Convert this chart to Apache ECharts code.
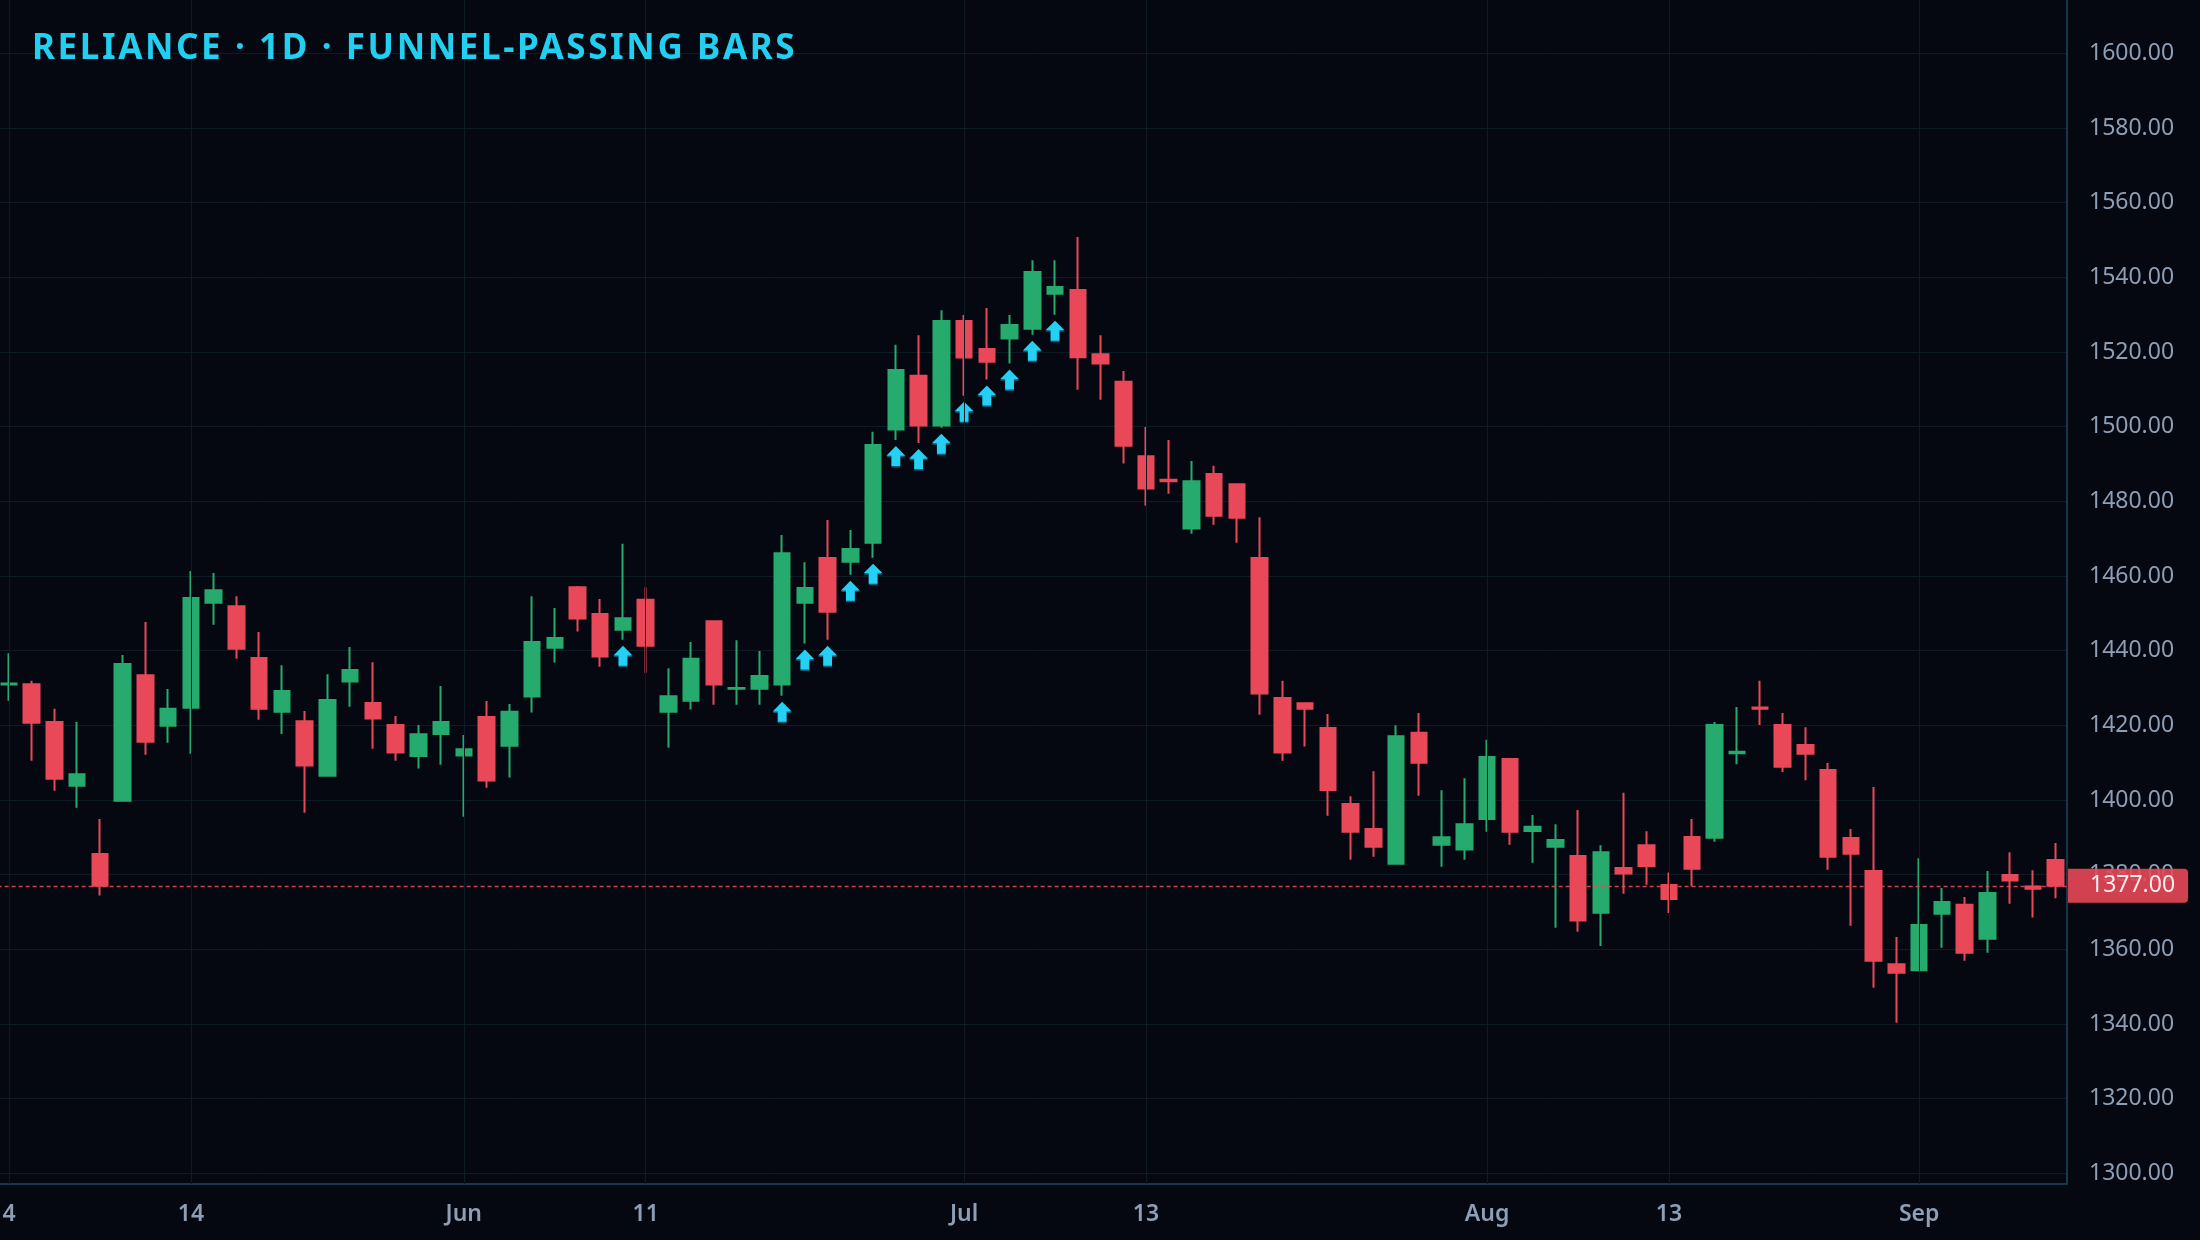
<!DOCTYPE html>
<html>
<head>
<meta charset="utf-8">
<script src="https://cdn.jsdelivr.net/npm/echarts@6/dist/echarts.min.js"></script>
<style>
  html, body { margin: 0; padding: 0; background: #050810; }
  #chart { width: 2200px; height: 1240px; }
</style>
</head>
<body>
<div id="chart"></div>
<script>
// ---------- data ----------
const categories = Array.from({ length: 91 }, (_, i) => 'Bar ' + (i + 1));
const tickIndex = [0, 8, 20, 28, 42, 50, 65, 73, 84];
const tickText  = ['4', '14', 'Jun', '11', 'Jul', '13', 'Aug', '13', 'Sep'];

const openV = [
  1430.9, 1431.0, 1420.9, 1403.8, 1385.5, 1399.8, 1433.4, 1419.9, 1424.7, 1452.8,
  1451.9, 1438.0, 1423.6, 1421.1, 1406.5, 1431.7, 1426.0, 1420.1, 1411.8, 1417.7,
  1411.9, 1422.2, 1414.5, 1427.7, 1440.8, 1457.0, 1449.8, 1445.6, 1453.6, 1423.6,
  1426.6, 1447.9, 1429.8, 1429.8, 1430.9, 1452.8, 1464.8, 1463.8, 1468.9, 1499.2,
  1513.6, 1500.3, 1528.3, 1520.8, 1523.6, 1526.2, 1535.6, 1536.6, 1519.4, 1512.0,
  1492.1, 1485.8, 1472.7, 1487.3, 1484.6, 1464.8, 1427.3, 1425.9, 1419.3, 1398.9,
  1392.2, 1382.9, 1418.0, 1388.0, 1386.7, 1394.9, 1411.0, 1391.7, 1387.5, 1385.0,
  1369.8, 1381.8, 1387.9, 1377.2, 1390.1, 1389.9, 1412.5, 1424.8, 1420.1, 1414.7,
  1408.0, 1389.8, 1381.0, 1356.0, 1354.4, 1369.5, 1371.9, 1362.8, 1379.9, 1376.8,
  1383.9
];
const closeV = [
  1431.2, 1420.7, 1405.7, 1406.9, 1377.0, 1436.4, 1415.6, 1424.4, 1454.1, 1456.2,
  1440.5, 1424.4, 1429.2, 1409.2, 1426.8, 1434.8, 1421.8, 1412.7, 1417.6, 1420.9,
  1413.6, 1405.2, 1423.6, 1442.3, 1443.4, 1448.6, 1438.4, 1448.7, 1441.3, 1427.8,
  1437.8, 1430.9, 1430.0, 1433.2, 1466.1, 1456.8, 1450.4, 1467.2, 1495.1, 1515.2,
  1500.3, 1528.3, 1518.5, 1517.4, 1527.2, 1541.4, 1537.4, 1518.6, 1516.9, 1494.9,
  1483.4, 1485.4, 1485.4, 1476.1, 1475.6, 1428.5, 1412.7, 1424.4, 1402.7, 1391.5,
  1387.5, 1417.1, 1410.0, 1390.0, 1393.5, 1411.5, 1391.5, 1392.8, 1389.3, 1367.7,
  1386.0, 1380.3, 1382.3, 1373.5, 1381.6, 1420.1, 1412.9, 1424.4, 1408.9, 1412.4,
  1384.8, 1385.6, 1356.9, 1353.7, 1366.5, 1372.7, 1359.1, 1375.1, 1378.4, 1376.2,
  1377.0
];
const lowV = [
  1426.6, 1410.5, 1402.5, 1397.9, 1374.4, 1399.8, 1412.1, 1415.3, 1412.4, 1446.9,
  1437.8, 1421.5, 1417.7, 1396.6, 1406.5, 1425.0, 1413.7, 1410.5, 1408.4, 1409.4,
  1395.5, 1403.3, 1406.0, 1423.4, 1436.8, 1445.1, 1435.7, 1442.9, 1434.1, 1414.0,
  1424.2, 1425.5, 1425.5, 1425.5, 1427.9, 1441.9, 1442.9, 1460.3, 1464.9, 1496.4,
  1495.6, 1499.7, 1508.3, 1512.6, 1516.9, 1524.6, 1530.0, 1509.9, 1507.2, 1490.1,
  1478.8, 1482.0, 1471.3, 1473.7, 1468.9, 1422.8, 1410.5, 1414.3, 1395.8, 1384.0,
  1384.8, 1382.9, 1401.1, 1382.1, 1384.0, 1391.5, 1388.0, 1383.2, 1365.8, 1364.7,
  1360.9, 1374.9, 1377.3, 1369.7, 1376.9, 1388.8, 1409.6, 1420.1, 1407.5, 1405.3,
  1381.3, 1366.3, 1349.7, 1340.3, 1354.2, 1360.4, 1356.9, 1359.1, 1372.2, 1368.5,
  1373.7
];
const highV = [
  1439.3, 1431.9, 1424.4, 1420.9, 1394.9, 1438.8, 1447.7, 1429.7, 1461.3, 1460.8,
  1454.6, 1445.0, 1436.1, 1423.8, 1433.7, 1441.0, 1436.9, 1422.5, 1420.1, 1430.5,
  1417.4, 1426.5, 1425.7, 1454.6, 1451.4, 1457.3, 1453.8, 1468.6, 1457.0, 1435.3,
  1442.3, 1447.9, 1442.8, 1439.9, 1471.0, 1463.7, 1475.0, 1472.3, 1498.6, 1521.9,
  1524.5, 1531.2, 1529.9, 1531.8, 1529.9, 1544.6, 1544.6, 1550.8, 1524.5, 1514.9,
  1499.9, 1496.4, 1490.8, 1489.5, 1484.6, 1475.7, 1431.9, 1426.0, 1423.0, 1401.0,
  1407.7, 1420.0, 1423.3, 1402.6, 1405.8, 1416.1, 1411.0, 1396.0, 1393.5, 1397.3,
  1387.9, 1401.9, 1391.6, 1380.6, 1394.9, 1420.9, 1424.9, 1431.9, 1423.3, 1419.5,
  1409.9, 1392.2, 1403.5, 1363.3, 1384.4, 1376.4, 1374.0, 1381.0, 1386.0, 1381.2,
  1388.5
];
// bars that passed the funnel (arrow markers under the low)
const signalIdx = [27, 34, 35, 36, 37, 38, 39, 40, 41, 42, 43, 44, 45, 46];
const lastPrice = closeV[closeV.length - 1];
const titleText = 'RELIANCE \u00B7 1D \u00B7 FUNNEL-PASSING BARS';

// ---------- letter spacing for the title text (canvas) ----------
(function () {
  const proto = CanvasRenderingContext2D.prototype;
  const orig = proto.fillText;
  proto.fillText = function () {
    if (this.font && this.font.indexOf('35px') >= 0 && 'letterSpacing' in this) {
      const prev = this.letterSpacing;
      this.letterSpacing = '2.6px';
      const r = orig.apply(this, arguments);
      this.letterSpacing = prev;
      return r;
    }
    return orig.apply(this, arguments);
  };
})();

// ---------- styles ----------
const FONT = 'Noto Sans';
const UP = '#27aa6d';
const DOWN = '#e94858';
const GRID_LINE = '#0e1a24';
const FRAME = '#17384a';
const LABEL = '#8d9eb5';
const CYAN = '#24d0f4';

const candleData = openV.map((o, i) => [o, closeV[i], lowV[i], highV[i]]);
const arrowData = signalIdx.map(i => [i, lowV[i]]);

const gridLeft = -2.37, gridRight = 133.03;

const chart = echarts.init(document.getElementById('chart'), null, { renderer: 'canvas' });
chart.setOption({
  animation: false,
  backgroundColor: '#050810',
  title: {
    text: titleText,
    left: 32, top: 31.5, padding: 0,
    textStyle: { color: '#22cff0', fontSize: 35, fontWeight: 'bold', fontFamily: FONT }
  },
  grid: [
    { left: gridLeft, right: gridRight, top: 53.3, bottom: 66.7, outerBoundsMode: 'none', containLabel: false },
    { left: gridLeft, right: gridRight, top: 0, bottom: 56, outerBoundsMode: 'none', containLabel: false }
  ],
  xAxis: [
    { type: 'category', gridIndex: 0, data: categories, boundaryGap: true, show: false },
    {
      type: 'category', gridIndex: 1, data: categories, boundaryGap: true,
      axisLine: { show: true, lineStyle: { color: FRAME, width: 2 } },
      axisTick: { show: false },
      splitLine: { show: false },
      axisLabel: {
        interval: (idx) => tickIndex.indexOf(idx) >= 0,
        formatter: (v, idx) => { const k = tickIndex.indexOf(idx); return k >= 0 ? tickText[k] : ''; },
        color: LABEL, fontSize: 23, fontWeight: 600, fontFamily: FONT, margin: 19
      }
    }
  ],
  yAxis: [
    {
      type: 'value', gridIndex: 0, position: 'right',
      min: 1300, max: 1600, interval: 20, scale: true,
      axisLine: { show: false }, axisTick: { show: false },
      axisLabel: {
        formatter: (v) => v.toFixed(2), color: LABEL, fontSize: 23, fontFamily: FONT,
        margin: 22, padding: [5, 0, 0, 0], showMinLabel: true, showMaxLabel: true
      },
      splitLine: { show: true, lineStyle: { color: GRID_LINE, width: 1 } }
    },
    {
      type: 'value', gridIndex: 1, position: 'right', min: 0, max: 1,
      axisLine: { show: true, lineStyle: { color: FRAME, width: 2 } },
      axisTick: { show: false }, axisLabel: { show: false }, splitLine: { show: false }
    }
  ],
  series: [
    {
      // vertical grid lines at the date ticks
      type: 'line', xAxisIndex: 1, yAxisIndex: 1, data: [], silent: true, z: 0,
      markLine: {
        silent: true, symbol: ['none', 'none'], label: { show: false },
        lineStyle: { color: GRID_LINE, width: 1, type: 'solid' },
        emphasis: { disabled: true },
        data: tickIndex.map(i => ({ xAxis: i }))
      }
    },
    {
      type: 'candlestick', xAxisIndex: 0, yAxisIndex: 0, data: candleData,
      barWidth: 16, z: 2,
      itemStyle: { color: UP, color0: DOWN, borderColor: UP, borderColor0: DOWN, borderWidth: 2 },
      emphasis: { disabled: true },
      markLine: {
        silent: true, symbol: ['none', 'none'],
        lineStyle: { color: DOWN, width: 1.3, type: [4, 3], opacity: 0.9 },
        emphasis: { disabled: true },
        label: {
          show: true, position: 'end', distance: 1,
          formatter: () => lastPrice.toFixed(2),
          color: '#ffffff', fontSize: 23, fontFamily: FONT, lineHeight: 23,
          backgroundColor: DOWN, padding: [8, 13, 3, 22], borderRadius: [0, 4, 4, 0]
        },
        data: [{ yAxis: lastPrice }]
      }
    },
    {
      type: 'scatter', xAxisIndex: 0, yAxisIndex: 0, data: arrowData, silent: true, z: 3,
      symbol: 'path://M9.5,0 L19,9.6 L13.9,9.6 L13.9,20 L5.1,20 L5.1,9.6 L0,9.6 Z',
      symbolSize: [19, 20], symbolOffset: [0, 16],
      itemStyle: {
        color: CYAN, opacity: 1,
        shadowColor: '#0a5a72', shadowOffsetY: 1.5, shadowBlur: 0
      }
    }
  ]
});
</script>
</body>
</html>
